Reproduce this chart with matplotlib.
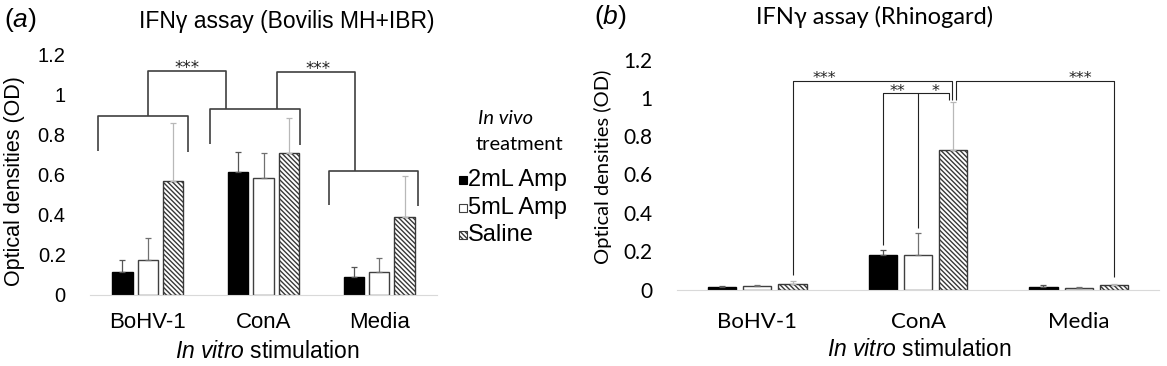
import numpy as np
import matplotlib
matplotlib.use("Agg")
import matplotlib.pyplot as plt
from matplotlib.patches import Rectangle

plt.rcParams["mathtext.fontset"] = "custom"
plt.rcParams["mathtext.it"] = "Liberation Sans:italic"
plt.rcParams["mathtext.rm"] = "Liberation Sans"

stimuli = ["BoHV-1", "ConA", "Media"]
treatments = ["2mL Amp", "5mL Amp", "Saline"]
yticks = [0, 0.2, 0.4, 0.6, 0.8, 1.0, 1.2]
ytick_labels = ["0", "0.2", "0.4", "0.6", "0.8", "1", "1.2"]

# (a) Bovilis MH+IBR: mean OD and upper error, per stimulus
bov_2ml = [0.117, 0.613, 0.092]
bov_2ml_err = [0.058, 0.100, 0.050]
bov_5ml = [0.175, 0.583, 0.113]
bov_5ml_err = [0.110, 0.125, 0.070]
bov_sal = [0.570, 0.708, 0.388]
bov_sal_err = [0.290, 0.175, 0.207]

# (b) Rhinogard
rhi_2ml = [0.012, 0.180, 0.015]
rhi_2ml_err = [0.008, 0.026, 0.007]
rhi_5ml = [0.018, 0.180, 0.010]
rhi_5ml_err = [0.003, 0.113, 0.004]
rhi_sal = [0.029, 0.728, 0.024]
rhi_sal_err = [0.014, 0.249, 0.004]

# significance brackets (data coords) and stars
brackets_a = [
    [(-0.428, 0.72), (-0.428, 0.897), (0.35, 0.897), (0.35, 0.717)],
    [(0.537, 0.755), (0.537, 0.93), (1.315, 0.93), (1.315, 0.75)],
    [(1.566, 0.45), (1.566, 0.622), (2.332, 0.622), (2.332, 0.447)],
    [(0.0, 0.897), (0.0, 1.12), (0.68, 1.12), (0.68, 0.93)],
    [(1.113, 0.93), (1.113, 1.117), (1.79, 1.117), (1.79, 0.622)],
]
stars_a = [(0.335, 1.12, "***"), (1.473, 1.117, "***")]
brackets_b = [
    [(0.221, 0.075), (0.221, 1.089), (1.209, 1.089), (1.209, 0.988)],
    [(1.236, 0.988), (1.236, 1.089), (2.22, 1.089), (2.22, 0.064)],
    [(0.78, 0.232), (0.78, 1.023), (1.194, 1.023), (1.194, 0.988)],
    [(0.998, 0.319), (0.998, 1.023)],
]
stars_b = [(0.419, 1.089, "***"), (2.01, 1.089, "***"),
           (0.872, 1.023, "**"), (1.11, 1.023, "*")]

offsets = [-0.22, 0.0, 0.22]
bar_w = 0.175
styles = [
    dict(facecolor="black", edgecolor="black"),
    dict(facecolor="white", edgecolor="#404040"),
    dict(facecolor="white", edgecolor="#383838", hatch="\\" * 7),
]
err_colors = ["#555555", "#707070", "#b8b8b8"]

W, H = 1167, 366
fig = plt.figure(figsize=(W / 100, H / 100), dpi=100)
ax_a = fig.add_axes([90 / W, 1 - 295 / H, 347 / W, 240 / H])
ax_b = fig.add_axes([676.7 / W, 1 - 289.5 / H, 482.6 / W, 230 / H])


def draw_panel(ax, series, errs, brackets, stars, tfont, xsize, ysize, xpad,
               lw_br, col_br, star_size, star_dy):
    x0 = np.arange(len(stimuli))
    for i, (m, e) in enumerate(zip(series, errs)):
        x = x0 + offsets[i]
        ax.bar(x, m, bar_w, lw=1.0, zorder=2, **styles[i])
        ax.errorbar(x, m, yerr=[np.zeros(len(e)), e], fmt="none", ecolor=err_colors[i],
                    elinewidth=0.9, capsize=2, capthick=0.9, zorder=3)
    for pts in brackets:
        xs, ys = zip(*pts)
        ax.plot(xs, ys, color=col_br, lw=lw_br, solid_capstyle="butt", zorder=4)
    for sx, sy, s in stars:
        ax.text(sx, sy + star_dy, s, ha="center", va="baseline", fontsize=star_size,
                family="DejaVu Sans", color="#222222")
    ax.set_xlim(-0.5, 2.5)
    ax.set_ylim(0, 1.2)
    ax.set_xticks(x0)
    ax.set_xticklabels(stimuli, fontsize=xsize, family=tfont)
    ax.set_yticks(yticks)
    ax.set_yticklabels(ytick_labels, fontsize=ysize, family=tfont)
    ax.tick_params(length=0)
    ax.tick_params(axis="y", pad=17.5)
    ax.tick_params(axis="x", pad=xpad)
    for s in ["top", "right", "left"]:
        ax.spines[s].set_visible(False)
    ax.spines["bottom"].set_color("#d9d9d9")
    ax.patch.set_alpha(0)


draw_panel(ax_a, [bov_2ml, bov_5ml, bov_sal], [bov_2ml_err, bov_5ml_err, bov_sal_err],
           brackets_a, stars_a, "Liberation Sans", 16, 14.5, 12, 1.2, "#404040", 12, -0.01)
draw_panel(ax_b, [rhi_2ml, rhi_5ml, rhi_sal], [rhi_2ml_err, rhi_5ml_err, rhi_sal_err],
           brackets_b, stars_b, "Lato", 16, 15, 16, 0.8, "#222222", 11.5, -0.012)

# axis labels
ax_a.set_ylabel("Optical densities (OD)", fontsize=15.5, family="Liberation Sans", va="center")
ax_a.yaxis.set_label_coords((15 - 90) / 347, (295 - 181) / 240)
ax_a.set_xlabel(r"$\mathit{In\ vitro}$ stimulation", fontsize=16.5, family="Liberation Sans", va="center")
ax_a.xaxis.set_label_coords((267.5 - 90) / 347, (295 - 352) / 240)
ax_b.set_ylabel("Optical densities (OD)", fontsize=14.5, family="Lato", va="center")
ax_b.yaxis.set_label_coords((602.5 - 676.7) / 482.6, (289.5 - 166.7) / 230)
ax_b.set_xlabel(r"$\mathit{In\ vitro}$ stimulation", fontsize=16.5, family="Liberation Sans", va="center")
ax_b.xaxis.set_label_coords((919 - 676.7) / 482.6, (289.5 - 350) / 230)

# titles and panel letters
ax_a.text((287 - 90) / 347, (295 - 21.7) / 240, "IFNγ assay (Bovilis MH+IBR)",
          transform=ax_a.transAxes, ha="center", va="center", fontsize=16.5, family="Liberation Sans")
ax_b.text((875 - 676.7) / 482.6, (289.5 - 17) / 230, "IFNγ assay (Rhinogard)",
          transform=ax_b.transAxes, ha="center", va="center", fontsize=17,
          family=["Lato", "DejaVu Sans"])
fig.text(4 / W, 1 - 20 / H, r"($\mathit{a}$)", ha="left", va="center", fontsize=19, family="Liberation Sans")
fig.text(594 / W, 1 - 16.7 / H, r"($\mathit{b}$)", ha="left", va="center", fontsize=19, family="Liberation Sans")

# legend
fig.text(478 / W, 1 - 118 / H, "In vivo", style="italic", family="Lato", fontsize=14.5, va="center")
fig.text(476 / W, 1 - 145 / H, "treatment", family="Lato", fontsize=14.5, va="center")
for i, (lab, yc) in enumerate(zip(treatments, [180, 208, 235])):
    fig.add_artist(Rectangle((459 / W, 1 - (yc + 4) / H), 8 / W, 8 / H, transform=fig.transFigure,
                             lw=0.8, **styles[i]))
    fig.text(468 / W, 1 - yc / H, lab, family="Liberation Sans", fontsize=17, va="center")

fig.savefig("out.png", dpi=100)
